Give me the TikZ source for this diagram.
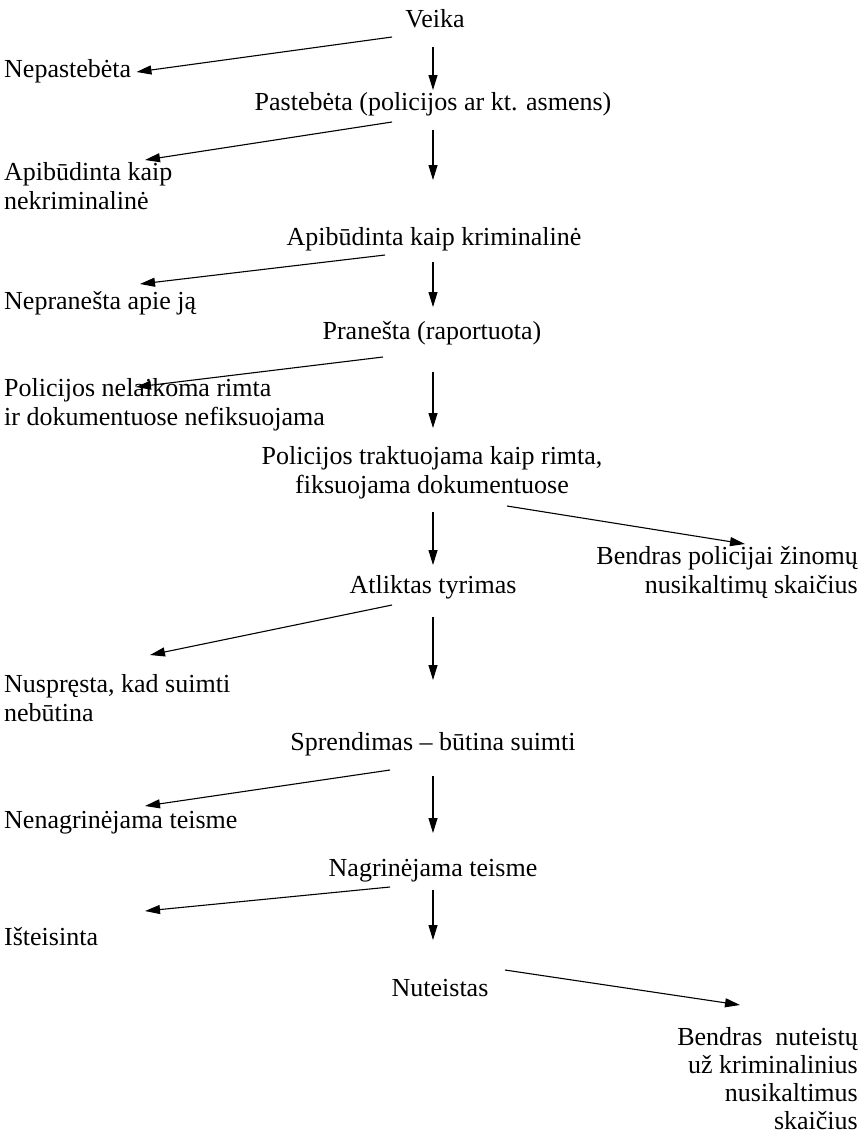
\documentclass[tikz,border=0pt]{standalone}
\usepackage{fontspec}
\setmainfont{Liberation Serif}
\usetikzlibrary{arrows.meta,calc}
\begin{document}
\begin{tikzpicture}[x=1pt,y=-1pt,
  lbl/.style={inner sep=0pt, font=\fontsize{26}{29}\selectfont},
  arr/.style={line width=1.1pt, -{Triangle[length=15pt,width=9pt]}}]
\useasboundingbox (0,0) rectangle (866,1138);
% central column (anchor = baseline of last line)
\node[lbl,anchor=base] (veika) at (435,27) {Veika};
\node[lbl,anchor=base] (paste) at (433,110) {Pastebėta (policijos ar kt. asmens)};
\node[lbl,anchor=base] (apk) at (434,245) {Apibūdinta kaip kriminalinė};
\node[lbl,anchor=base] (pran) at (432,339) {Pranešta (raportuota)};
\node[lbl,anchor=base,align=center] (poltr) at (432,493) {Policijos traktuojama kaip rimta,\\fiksuojama dokumentuose};
\node[lbl,anchor=base] (atl) at (433,593) {Atliktas tyrimas};
\node[lbl,anchor=base] (spr) at (433,750) {Sprendimas – būtina suimti};
\node[lbl,anchor=base] (nag) at (433,876) {Nagrinėjama teisme};
\node[lbl,anchor=base] (nut) at (440,996) {Nuteistas};
% left column
\node[lbl,anchor=base west] (nep) at (4,77) {Nepastebėta};
\node[lbl,anchor=base west,align=left] (apnk) at (4,209) {Apibūdinta kaip\\nekriminalinė};
\node[lbl,anchor=base west] (nepr) at (4,309) {Nepranešta apie ją};
\node[lbl,anchor=base west,align=left] (polnel) at (4,425) {Policijos nelaikoma rimta\\ir dokumentuose nefiksuojama};
\node[lbl,anchor=base west,align=left] (nusp) at (4,721) {Nuspręsta, kad suimti\\nebūtina};
\node[lbl,anchor=base west] (nenag) at (4,828) {Nenagrinėjama teisme};
\node[lbl,anchor=base west] (isteis) at (4,945) {Išteisinta};
% right column
\node[lbl,anchor=base east,align=right] (bpz) at (858,593) {Bendras policijai žinomų\\nusikaltimų skaičius};
\node[lbl,anchor=base east,align=right,font=\fontsize{26}{28}\selectfont] (bnut) at (858,1129) {Bendras\ \ nuteistų\\už kriminalinius\\nusikaltimus\\skaičius};
% vertical arrows
\draw[arr] ($(veika.base)+(-2,20)$) -- ($(paste.base)+(0,-20)$);
\draw[arr] ($(paste.base)+(0,20)$) -- ($(apk.base)+(-1,-65)$);
\draw[arr] ($(apk.base)+(-1,17)$) -- ($(pran.base)+(1,-32)$);
\draw[arr] ($(pran.base)+(1,33)$) -- ($(poltr.base)+(1,-65)$);
\draw[arr] ($(poltr.base)+(1,19)$) -- ($(atl.base)+(0,-28)$);
\draw[arr] ($(atl.base)+(0,24)$) -- ($(spr.base)+(0,-70)$);
\draw[arr] ($(spr.base)+(0,26)$) -- ($(nag.base)+(0,-43)$);
\draw[arr] ($(nag.base)+(0,14)$) -- ($(nut.base)+(-7,-56)$);
% side arrows
\draw[arr] ($(veika.base)+(-43,10)$) -- ($(nep.base east)+(5,-5)$);
\draw[arr] ($(paste.base)+(-41,12)$) -- ($(apnk.base west)+(141,-49)$);
\draw[arr] ($(apk.base)+(-49,10)$) -- ($(nepr.base west)+(136,-25)$);
\draw[arr] ($(pran.base)+(-49,18)$) -- ($(polnel.base west)+(132,-38)$);
\draw[arr] ($(poltr.base)+(75,13)$) -- ($(bpz.base east)+(-113,-49)$);
\draw[arr] ($(atl.base)+(-41,12)$) -- ($(nusp.base west)+(146,-66)$);
\draw[arr] ($(spr.base)+(-43,20)$) -- ($(nenag.base west)+(141,-22)$);
\draw[arr] ($(nag.base)+(-43,11)$) -- ($(isteis.base west)+(141,-34)$);
\draw[arr] ($(nut.base)+(65,-26)$) -- ($(bnut.base east)+(-118,-124)$);
\end{tikzpicture}
\end{document}
